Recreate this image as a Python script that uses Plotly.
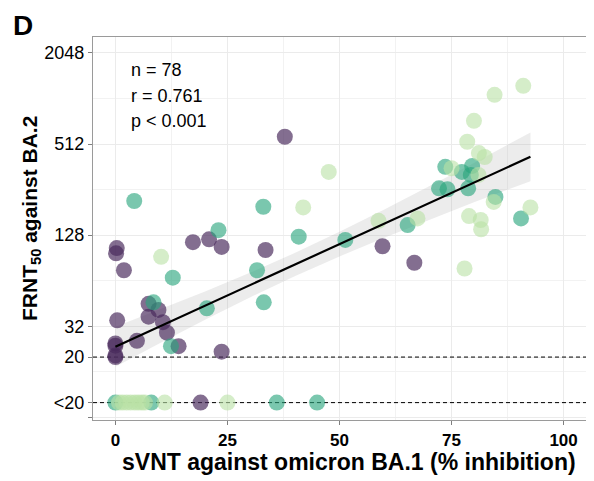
import numpy as np
import plotly.graph_objects as go

# ---- data ----
# FRNT50 values; "<20" responses are plotted at 10
purple_x = [0.3, 0.15, 1.9, 17.3, 20.9, 23.7, 33.5, 7.4, 9.6, 7.4, 0.4, 10.6, 11.5, 4.8,
            0, 0, 0, 0, 14.1, 23.7, 37.8, 59.6, 66.7, 19]
purple_y = [105, 97, 75, 115, 120, 107, 102, 45, 41, 37, 35, 34, 29, 25.6,
            24.6, 23.8, 20.5, 20, 23.6, 21.7, 572, 108, 84, 10]

teal_x = [4.2, 33, 23, 12.8, 31.6, 33.1, 8.5, 20.4, 12.4, 40.9, 51.3, 65.2, 73.6, 77.3,
          79.6, 79.3, 72.2, 74.1, 78.7, 84.8, 90.5, 8, 36, 45, 0]
teal_y = [215, 197, 138, 67, 75, 46, 46, 42, 23.6, 125, 119, 149, 362, 335,
          367, 320, 261, 257, 261, 229, 165, 10, 10, 10, 10]

light_x = [10.2, 47.6, 41.9, 58.7, 67.4, 75, 81, 81.1, 82.4, 78.5, 80, 84.6, 91, 84.4,
           92.6, 78.9, 81.5, 81.6, 77.9, 11, 25, 0.8, 1.6, 2.5, 3.4, 4.3, 5.1, 5.9, 6.6]
light_y = [92, 335, 195, 159, 165, 354, 320, 446, 420, 530, 729, 1082, 1242, 212,
           195, 171, 161, 140, 77, 10, 10, 10, 10, 10, 10, 10, 10, 10, 10]

# regression line (log2 FRNT50) and confidence band half-width
fit_x = [0, 92.6]
fit_log2 = [4.55, 8.72]
band_x = [0, 10, 20, 30, 40, 50, 60, 70, 80, 92.6]
band_hw = [0.44, 0.37, 0.31, 0.27, 0.255, 0.27, 0.31, 0.37, 0.43, 0.535]

y_tickvals = [8, 10, 20, 32, 128, 512, 2048]
y_ticktext = [" ", "<20", "20", "32", "128", "512", "2048"]
y_minor = [16, 64, 256, 1024]
x_tickvals = [0, 25, 50, 75, 100]
x_minor = [12.5, 37.5, 62.5, 87.5]
stats_lines = ["n = 78", "r = 0.761", "p < 0.001"]

FONT = "Liberation Sans, Arial, Helvetica, sans-serif"

fig = go.Figure()

# dashed reference lines at 20 and <20
for yv in [20, 10]:
    fig.add_trace(go.Scatter(x=[-5, 105], y=[yv, yv], mode="lines",
                             line=dict(color="black", width=1, dash="4px,3px"),
                             hoverinfo="skip", showlegend=False))

# confidence band
bx = np.array(band_x, dtype=float)
center = np.interp(bx, fit_x, fit_log2)
hw = np.array(band_hw)
hi = 2 ** (center + hw)
lo = 2 ** (center - hw)
fig.add_trace(go.Scatter(x=np.concatenate([bx, bx[::-1]]),
                         y=np.concatenate([hi, lo[::-1]]),
                         fill="toself", fillcolor="rgba(160,160,160,0.2)",
                         line=dict(width=0), mode="lines",
                         hoverinfo="skip", showlegend=False))

# points
for xs, ys, col in [(purple_x, purple_y, "rgba(72,42,92,0.68)"),
                    (teal_x, teal_y, "rgba(40,165,125,0.62)"),
                    (light_x, light_y, "rgba(185,225,165,0.6)")]:
    fig.add_trace(go.Scatter(x=xs, y=ys, mode="markers",
                             marker=dict(size=16, color=col, line=dict(width=0)),
                             showlegend=False))

# regression line
fig.add_trace(go.Scatter(x=fit_x, y=[2 ** v for v in fit_log2], mode="lines",
                         line=dict(color="black", width=2.2),
                         hoverinfo="skip", showlegend=False))

# the page puts the figure 8 px in from the top-left corner
OFF = 8
W, H = 594 - OFF, 481 - OFF
L, R, T = 93 - OFF, 8, 37 - OFF
B = H - (420 - OFF)
pw, ph = W - L - R, H - T - B

def px(xp):
    return (xp - OFF - L) / pw

def py(yp):
    return (H - B - (yp - OFF)) / ph

annotations = []
for i, s in enumerate(stats_lines):
    annotations.append(dict(text=s, xref="paper", yref="paper", x=px(129), y=py(70 + 25.5 * i),
                            xanchor="left", yanchor="middle", showarrow=False,
                            font=dict(family=FONT, size=18, color="black")))
annotations.append(dict(text="<b>sVNT against omicron BA.1 (% inhibition)</b>",
                        xref="paper", yref="paper", x=px(349), y=py(462),
                        xanchor="center", yanchor="middle", showarrow=False,
                        font=dict(family=FONT, size=23, color="black")))
annotations.append(dict(text="<b>FRNT<sub>50</sub> against BA.2</b>",
                        xref="paper", yref="paper", x=px(31), y=py(219),
                        xanchor="center", yanchor="middle", showarrow=False, textangle=-90,
                        font=dict(family=FONT, size=21, color="black")))
annotations.append(dict(text="<b>D</b>", xref="paper", yref="paper", x=px(11), y=py(8),
                        xanchor="left", yanchor="top", showarrow=False,
                        font=dict(family=FONT, size=28, color="black")))

fig.update_layout(
    width=W, height=H,
    margin=dict(l=L, r=R, t=T, b=B),
    plot_bgcolor="white", paper_bgcolor="white",
    annotations=annotations,
    font=dict(family=FONT, color="black"),
)
fig.update_xaxes(range=[-5, 105], tickmode="array", tickvals=x_tickvals,
                 ticktext=[f"<b>{v}</b>" for v in x_tickvals],
                 tickfont=dict(family=FONT, size=17, color="black"),
                 showgrid=True, gridcolor="#ebebeb", gridwidth=1,
                 minor=dict(tickmode="array", tickvals=x_minor, showgrid=True,
                            gridcolor="#f2f2f2", gridwidth=1, ticklen=0),
                 ticks="outside", ticklen=4, tickcolor="#7f7f7f",
                 showline=True, mirror=True, linecolor="#9a9a9a", linewidth=1.2,
                 zeroline=False)
fig.update_yaxes(type="log", range=[np.log10(2 ** 2.94), np.log10(2 ** 11.35)],
                 tickmode="array", tickvals=y_tickvals, ticktext=y_ticktext,
                 tickfont=dict(family=FONT, size=18, color="black"),
                 showgrid=True, gridcolor="#ebebeb", gridwidth=1,
                 minor=dict(tickmode="array", tickvals=y_minor, showgrid=True,
                            gridcolor="#f2f2f2", gridwidth=1, ticklen=0),
                 ticks="outside", ticklen=4, tickcolor="#7f7f7f",
                 showline=True, mirror=True, linecolor="#9a9a9a", linewidth=1.2,
                 zeroline=False)

fig.write_html("out.html")
